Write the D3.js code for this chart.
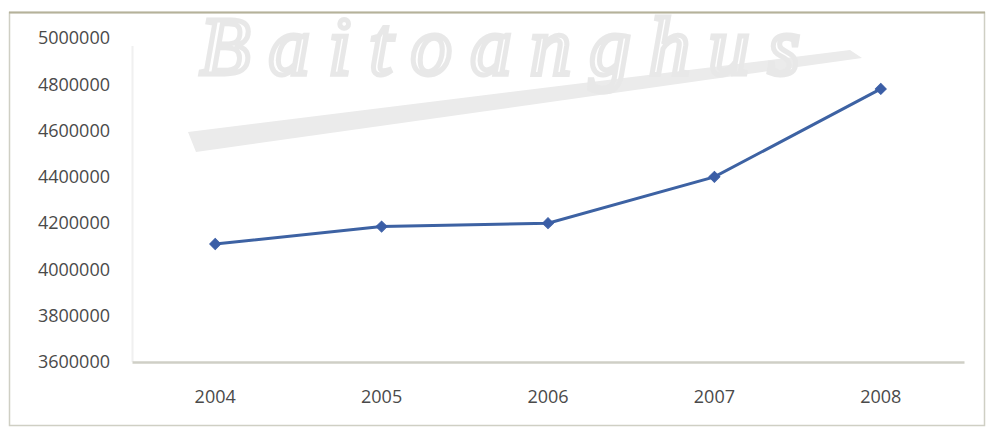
<!DOCTYPE html>
<html>
<head>
<meta charset="utf-8">
<script src="https://cdn.jsdelivr.net/npm/d3@7"></script>
<style>
  html, body { margin: 0; padding: 0; background: #ffffff; }
  svg { display: block; }
  .tickTxt { font-family: "Open Sans", sans-serif; font-size: 18px; fill: #4a4a4a; }
</style>
</head>
<body>
<div id="chartWrap"></div>
<script>
// chart values
var years = ["2004", "2005", "2006", "2007", "2008"];
var values = [4110000, 4185000, 4200000, 4400000, 4780000];
var yTicks = [3600000, 3800000, 4000000, 4200000, 4400000, 4600000, 4800000, 5000000];

var WIDTH = 988, HEIGHT = 429;
var MARGIN = { top: 38, right: 24, bottom: 67, left: 132 };

var svg = d3.select("#chartWrap")
  .append("svg")
  .attr("width", WIDTH)
  .attr("height", HEIGHT);

// outer chart frame
svg.append("rect")
  .attr("x", 9.5).attr("y", 12.5)
  .attr("width", 975).attr("height", 413)
  .attr("fill", "#ffffff")
  .attr("stroke", "#cfcfc4")
  .attr("stroke-width", 1.5);
svg.append("line")
  .attr("x1", 9).attr("x2", 985).attr("y1", 12.5).attr("y2", 12.5)
  .attr("stroke", "#b5b29a").attr("stroke-width", 2);

// watermark
var wm = svg.append("g").attr("class", "watermark");
wm.append("path")
  .attr("d", "M188,132 L850,50 L862,58 L196,152 Z")
  .attr("fill", "#ebebeb");
wm.append("text")
  .attr("x", 200).attr("y", 74)
  .attr("font-family", "Liberation Serif, serif")
  .attr("font-style", "italic")
  .attr("font-size", 82)
  .attr("fill", "none")
  .attr("stroke", "#e8e8e8")
  .attr("stroke-width", 5)
  .attr("textLength", 600)
  .text("Baitoanghus");

var x = d3.scaleBand()
  .domain(years)
  .range([MARGIN.left, WIDTH - MARGIN.right]);

var y = d3.scaleLinear()
  .domain([3600000, 5000000])
  .range([HEIGHT - MARGIN.bottom, MARGIN.top]);

// faint plot-area left edge
svg.append("line")
  .attr("x1", MARGIN.left + 0.5).attr("x2", MARGIN.left + 0.5)
  .attr("y1", y(5000000) + 8).attr("y2", y(3600000))
  .attr("stroke", "#f0f0f0").attr("stroke-width", 2);

// y axis labels
var yAxis = d3.axisLeft(y).tickValues(yTicks).tickSize(0).tickPadding(22)
  .tickFormat(function(d) { return d3.format("d")(d); });
var yG = svg.append("g")
  .attr("transform", "translate(" + MARGIN.left + ",0)")
  .call(yAxis);
yG.select(".domain").remove();
yG.selectAll("text").attr("class", "tickTxt").attr("font-family", null).attr("font-size", null);

// x axis
var xAxis = d3.axisBottom(x).tickSize(0).tickPadding(28);
var xG = svg.append("g")
  .attr("transform", "translate(0," + (HEIGHT - MARGIN.bottom) + ")")
  .call(xAxis);
xG.select(".domain").attr("stroke", "#cfcfc6").attr("stroke-width", 2.5);
xG.selectAll("text").attr("class", "tickTxt").attr("font-family", null).attr("font-size", null);

// series line
var line = d3.line()
  .x(function(d, i) { return x(years[i]) + x.bandwidth() / 2; })
  .y(function(d) { return y(d); });

svg.append("path")
  .datum(values)
  .attr("d", line)
  .attr("fill", "none")
  .attr("stroke", "#3d62a3")
  .attr("stroke-width", 3);

// diamond markers: square turned 45 degrees
var marker = d3.symbol().type(d3.symbolSquare).size(60);
svg.selectAll(".marker")
  .data(values)
  .enter()
  .append("path")
  .attr("class", "marker")
  .attr("d", marker)
  .attr("transform", function(d, i) {
    return "translate(" + (x(years[i]) + x.bandwidth() / 2) + "," + y(d) + ") rotate(45)";
  })
  .attr("fill", "#3b5ea6")
  .attr("stroke", "#3b5ea6")
  .attr("stroke-width", 1);
</script>
</body>
</html>
